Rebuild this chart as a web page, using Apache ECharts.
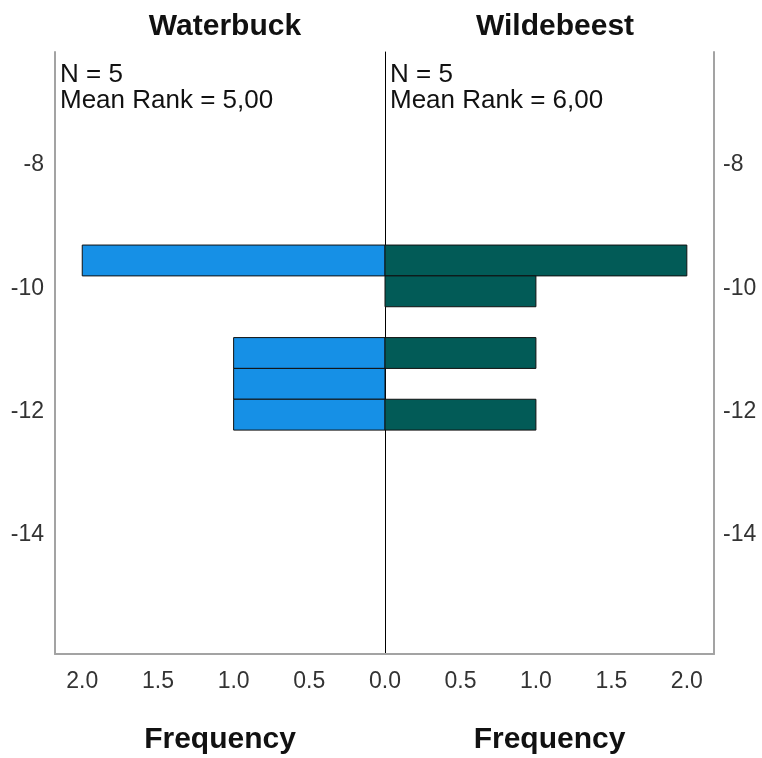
<!DOCTYPE html>
<html>
<head>
<meta charset="utf-8">
<script src="https://cdn.jsdelivr.net/npm/echarts@6/dist/echarts.min.js"></script>
<style>
  html, body { margin: 0; padding: 0; background: #fff; }
  #chart { width: 762px; height: 758px; }
</style>
</head>
<body>
<div id="chart"></div>
<script>
// Histogram bins (lower / upper edges of each bin)
const binLower = [-9.8, -10.3, -10.8, -11.3, -11.8, -12.3];
const binUpper = [-9.3, -9.8, -10.3, -10.8, -11.3, -11.8];
// Frequency of each bin per group
const waterbuckCounts  = [2, 0, 0, 1, 1, 1];
const wildebeestCounts = [2, 1, 0, 1, 0, 1];
// Group names and summary statistics
const groups = ['Waterbuck', 'Wildebeest'];
const groupN = [5, 5];
const meanRanks = ['5,00', '6,00'];
// Axis ticks
const yTicks = [-14, -12, -10, -8];
const freqTicks = [0, 0.5, 1, 1.5, 2];

const FONT = 'Liberation Sans, Arial, sans-serif';
const frameGray = '#a3a3a3';
const colors = ['#1690e6', '#025b57'];
const tickFont = { color: '#333', fontFamily: FONT, fontSize: 23 };
const boldText = { fontFamily: FONT, fontSize: 30, fontWeight: 'bold', color: '#111' };

function binData(counts) {
  const out = [];
  counts.forEach((c, i) => { if (c > 0) out.push([c, binLower[i], binUpper[i]]); });
  return out;
}

function renderBar(params, api) {
  const c = api.value(0), lo = api.value(1), hi = api.value(2);
  const p0 = api.coord([0, hi]);
  const p1 = api.coord([c, lo]);
  const x = Math.min(p0[0], p1[0]);
  const w = Math.abs(p1[0] - p0[0]);
  return {
    type: 'rect',
    shape: { x: x, y: p0[1], width: w, height: p1[1] - p0[1] },
    style: api.style({ stroke: '#111', lineWidth: 1 })
  };
}

const yBase = {
  type: 'value', min: -15.93, max: -6.17,
  splitLine: { show: false },
  axisTick: { show: false },
  axisLine: { show: true, onZero: false, lineStyle: { color: frameGray, width: 2 } },
  axisLabel: Object.assign({ customValues: yTicks }, tickFont)
};

const xBase = {
  type: 'value', min: 0, max: 2.18,
  splitLine: { show: false },
  axisTick: { show: false },
  axisLine: { show: true, onZero: false, lineStyle: { color: frameGray, width: 2 } },
  name: 'Frequency', nameLocation: 'middle', nameGap: 71,
  nameTextStyle: boldText
};

const chart = echarts.init(document.getElementById('chart'), null, { renderer: 'canvas' });
chart.setOption({
  animation: false,
  backgroundColor: '#fff',
  title: [
    { text: groups[0], left: 220, top: 7, textAlign: 'center', textStyle: boldText },
    { text: groups[1], left: 550, top: 7, textAlign: 'center', textStyle: boldText }
  ],
  grid: [
    { left: 55, right: 377, top: 52, bottom: 104, outerBoundsMode: 'none', containLabel: false },
    { left: 385, right: 48, top: 52, bottom: 104, outerBoundsMode: 'none', containLabel: false }
  ],
  xAxis: [
    Object.assign({}, xBase, { gridIndex: 0, inverse: true,
      axisLabel: Object.assign({ customValues: freqTicks, formatter: v => v.toFixed(1), margin: 16 }, tickFont) }),
    Object.assign({}, xBase, { gridIndex: 1,
      axisLabel: Object.assign({ customValues: freqTicks.slice(1), formatter: v => v.toFixed(1), margin: 16 }, tickFont) })
  ],
  yAxis: [
    Object.assign({}, yBase, { gridIndex: 0, position: 'left',
      axisLabel: Object.assign({}, yBase.axisLabel, { margin: 11 }) }),
    Object.assign({}, yBase, { gridIndex: 1, position: 'right',
      axisLabel: Object.assign({}, yBase.axisLabel, { margin: 9 }) }),
    // zero line shared by both panels
    Object.assign({}, yBase, { gridIndex: 1, position: 'left',
      axisLine: { show: true, onZero: false, lineStyle: { color: '#000', width: 1 } },
      axisLabel: { show: false } })
  ],
  graphic: [
    { type: 'text', left: 60, top: 62, z: 10,
      style: { text: 'N = ' + groupN[0] + '\nMean Rank = ' + meanRanks[0], lineHeight: 26,
        font: '26px ' + FONT, fill: '#111' } },
    { type: 'text', left: 390, top: 62, z: 10,
      style: { text: 'N = ' + groupN[1] + '\nMean Rank = ' + meanRanks[1], lineHeight: 26,
        font: '26px ' + FONT, fill: '#111' } }
  ],
  series: [
    { type: 'custom', name: groups[0], xAxisIndex: 0, yAxisIndex: 0,
      renderItem: renderBar, itemStyle: { color: colors[0] },
      encode: { x: 0, y: [1, 2] }, data: binData(waterbuckCounts) },
    { type: 'custom', name: groups[1], xAxisIndex: 1, yAxisIndex: 1,
      renderItem: renderBar, itemStyle: { color: colors[1] },
      encode: { x: 0, y: [1, 2] }, data: binData(wildebeestCounts) }
  ]
});
</script>
</body>
</html>
